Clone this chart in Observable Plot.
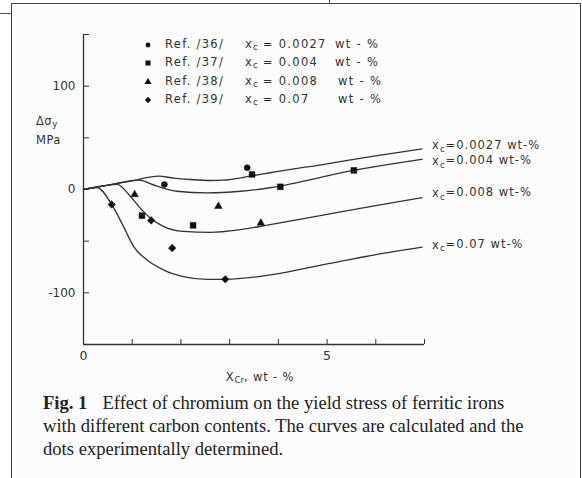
<!DOCTYPE html>
<html>
<head>
<meta charset="utf-8">
<script src="https://cdn.jsdelivr.net/npm/d3@7"></script>
<script src="https://cdn.jsdelivr.net/npm/@observablehq/plot@0.6"></script>
<style>
  body { margin: 0; background: #fff; }
  #page { position: relative; width: 582px; height: 478px; overflow: hidden; background: #fff;
          font-family: "DejaVu Sans", sans-serif; color: #333; }
  #frame { position: absolute; left: 11px; top: 3px; width: 568px; height: 520px;
           border: 1.5px solid #444; background: #fcfcfc; }
  #lineL { position: absolute; left: 0; top: 13px; width: 11px; height: 0; border-top: 1.5px solid #555; }
  #lineT { position: absolute; left: 329px; top: 0; width: 0; height: 3px; border-left: 1.5px solid #555; }
  #chart { position: absolute; left: 0; top: 0; }
  .ov { position: absolute; white-space: pre; font-size: 11.5px; color: #333; letter-spacing: 1.3px; }
  .ov sub { font-size: 0.75em; vertical-align: -0.25em; line-height: 0; letter-spacing: 0; }
  .cap { position: absolute; left: 43px; white-space: nowrap;
         font-family: "Liberation Serif", "Times New Roman", serif; font-size: 18.6px; color: #222; }
</style>
</head>
<body>
<div id="page">
  <div id="frame"></div>
  <div id="lineL"></div>
  <div id="lineT"></div>
  <div id="chart"></div>
  <div id="overlay"></div>
  <div class="cap" style="top:392px"><b style="margin-right:15px">Fig. 1</b>Effect of chromium on the yield stress of ferritic irons</div>
  <div class="cap" style="top:415px">with different carbon contents. The curves are calculated and the</div>
  <div class="cap" style="top:438px">dots experimentally determined.</div>
</div>
<script>
// ---- data ----
const carbonContents = ["0.0027", "0.004", "0.008", "0.07"];
const references = ["Ref. /36/", "Ref. /37/", "Ref. /38/", "Ref. /39/"];
const symbols = ["circle", "square", "triangle", "diamond2"];

// calculated curves: [Cr wt-%, Δσy MPa]
const curve0027 = [[0,0],[0.5,4.2],[1.0,8.4],[1.54,12.9],[1.85,11],[2.19,9.7],[2.6,8.7],[2.87,9.0],[3.42,12.9],[3.83,16.2],[5,24.9],[6,32.5],[6.95,39.4]];
const curve004  = [[0,0],[0.5,4.2],[1.13,9.0],[1.51,3.2],[1.92,-1.7],[2.53,-3.2],[3.22,-1.7],[3.83,1.7],[5.54,18.5],[6.5,26],[6.95,29.2]];
const curve008  = [[0,0],[0.4,3.4],[0.69,4.9],[0.96,-6.5],[1.16,-17.8],[1.37,-27.5],[1.64,-35.7],[2.05,-40.6],[2.6,-41.5],[3.22,-38.9],[3.83,-34.0],[5,-24],[6,-15.5],[6.95,-7.8]];
const curve07   = [[0,0],[0.275,1.9],[0.58,-14.6],[0.82,-35.7],[1.03,-55.2],[1.30,-68.1],[1.64,-77.8],[2.05,-84.3],[2.53,-86.9],[2.91,-86.9],[3.83,-82.7],[5,-72],[6,-63],[6.95,-55.7]];
const curves = [curve0027, curve004, curve008, curve07];

// experimental points
const ref36 = [[1.66,4.9],[3.36,21.1]];
const ref37 = [[3.46,14.6],[4.04,2.6],[5.55,18.5],[1.20,-25.3],[2.25,-34.7]];
const ref38 = [[1.05,-4.9],[2.77,-16.2],[3.64,-32.4]];
const ref39 = [[0.58,-14.6],[1.39,-29.9],[1.82,-56.7],[2.91,-86.9]];
const points = [ref36, ref37, ref38, ref39];

const xDomain = [0, 7];
const yDomain = [-150, 150];
const xTicks = [1, 2, 3, 4, 5, 6, 7];
const xTickLabels = [0, 5];
const yTicks = [-150, -100, -50, 0, 50, 100, 150];
const yTickLabels = [-100, 0, 100];

// ---- tables ----
const lineData = curves.flatMap((c, i) => c.map(([x, y]) => ({x, y, c: carbonContents[i]})));
const dotData = points.flatMap((p, i) => p.map(([x, y]) => ({x, y, ref: references[i], symbol: symbols[i]})));
const endData = curves.map((c, i) => ({x: c[c.length - 1][0], y: c[c.length - 1][1], label: "x_c=" + carbonContents[i] + " wt-%"}));
const labelDy = [-3, 2, -4, -2];
const dotR = {circle: 3, square: 3.3, triangle: 2.8, diamond2: 3.4};

const ink = "#333";
const plot = Plot.plot({
  width: 582, height: 390,
  marginLeft: 83, marginRight: 158, marginTop: 34, marginBottom: 46,
  x: {domain: xDomain},
  y: {domain: yDomain},
  symbol: {domain: symbols, range: symbols},
  style: {background: "transparent", fontFamily: "'DejaVu Sans', sans-serif", color: ink},
  marks: [
    Plot.ruleX([xDomain[0]], {y1: yDomain[0], y2: yDomain[1], stroke: ink, strokeWidth: 1.3}),
    Plot.ruleY([yDomain[0]], {x1: xDomain[0], x2: xDomain[1], stroke: ink, strokeWidth: 1.3}),
    Plot.axisY({ticks: yTicks, tickSize: -6, tickFormat: () => "", label: null, stroke: ink}),
    Plot.axisY({ticks: yTickLabels, tickSize: 0, tickPadding: 8, tickFormat: d => String(d), label: null, fontSize: 12}),
    Plot.axisX({ticks: xTicks, tickSize: -5, tickFormat: () => "", label: null, stroke: ink}),
    Plot.axisX({ticks: xTickLabels, tickSize: 0, tickPadding: 7, tickFormat: d => String(d), label: null, fontSize: 12.5}),
    Plot.line(lineData, {x: "x", y: "y", z: "c", curve: "monotone-x", stroke: ink, strokeWidth: 1.3}),
    ...symbols.map(s => Plot.dot(dotData.filter(d => d.symbol === s), {x: "x", y: "y", symbol: "symbol", r: dotR[s], fill: "#111", stroke: "#111", strokeWidth: 0.5})),
    ...endData.map((d, i) => Plot.text([d], {x: "x", y: "y", text: "label", textAnchor: "start", dx: 10, dy: labelDy[i], fontSize: 11.5, fill: ink}))
  ]
});

// subscript "c" in curve labels, widen spacing like the original lettering
d3.select(plot).selectAll("text").each(function() {
  const t = this.textContent;
  if (t.startsWith("x_c")) {
    const el = d3.select(this).attr("letter-spacing", "1px");
    el.text(null);
    el.append("tspan").text("x");
    el.append("tspan").attr("dy", "0.3em").attr("font-size", "0.75em").text("c");
    el.append("tspan").attr("dy", "-0.3em").text(t.slice(3));
  }
});
document.getElementById("chart").appendChild(plot);

// ---- overlay: legend, axis titles ----
const ov = document.getElementById("overlay");
function add(html, left, top, extra) {
  const d = document.createElement("div");
  d.className = "ov";
  d.innerHTML = html;
  d.style.left = left + "px";
  d.style.top = top + "px";
  if (extra) Object.assign(d.style, extra);
  ov.appendChild(d);
  return d;
}
const rowY = [45, 63.3, 81.7, 100];
const wtX = [335, 335, 338, 338];
const legendSize = {circle: 18, square: 26, triangle: 22, diamond2: 26};
references.forEach((r, i) => {
  const s = d3.create("svg").attr("width", 12).attr("height", 12)
    .style("position", "absolute").style("left", (148 - 6) + "px").style("top", (rowY[i] - 6) + "px");
  const sym = {circle: d3.symbolCircle, square: d3.symbolSquare, triangle: d3.symbolTriangle, diamond2: d3.symbolDiamond2}[symbols[i]];
  s.append("path").attr("transform", "translate(6,6)").attr("d", d3.symbol(sym, legendSize[symbols[i]])()).attr("fill", "#111");
  ov.appendChild(s.node());
  add(r, 165, rowY[i] - 8);
  add("x<sub>c</sub> = " + carbonContents[i], 245, rowY[i] - 8);
  add("wt - %", wtX[i], rowY[i] - 8);
});
add("Δσ<sub>y</sub>", 36, 114, {letterSpacing: "0.5px"});
add("MPa", 36, 133, {letterSpacing: "0.5px"});
add("X<sub>Cr</sub>, wt - %", 260, 370, {transform: "translateX(-50%)", letterSpacing: "0.8px"});
</script>
</body>
</html>
